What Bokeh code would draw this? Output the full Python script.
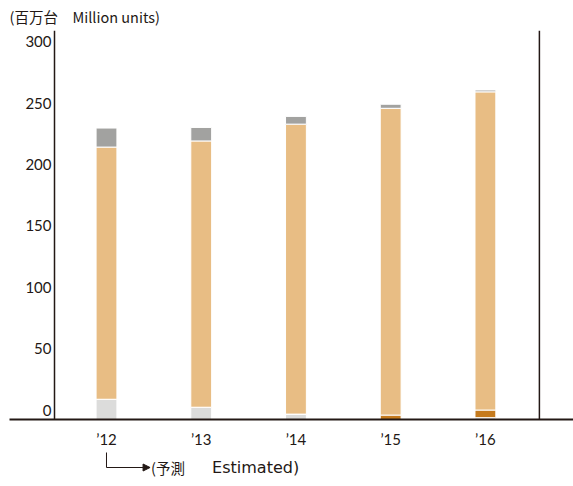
from bokeh.plotting import figure
from bokeh.layouts import column
from bokeh.models import (ColumnDataSource, Range1d, FixedTicker, LinearAxis, Span,
                          Label, Arrow, NormalHead, Title)
from bokeh.embed import file_html
from bokeh.resources import INLINE

years = ["\u201912", "\u201913", "\u201914", "\u201915", "\u201916"]
light_gray = [16.5, 10.0, 4.4, 0.0, 1.5]
dark_orange = [0.0, 0.0, 0.0, 3.6, 6.2]
orange = [205.5, 217.0, 236.3, 250.0, 259.3]
gray = [15.5, 11.0, 6.3, 3.3, 1.5]
y_ticks = [0, 50, 100, 150, 200, 250, 300]
unit_label = "(百万台\u3000Million units)"
note_jp = "(予測"
note_en = "Estimated)"

xs = list(range(len(years)))
FONT = "Lato"
INK = "#231815"
LABEL_LIFT = 7.7  # tick labels sit above their value lines

src = ColumnDataSource(dict(x=xs, lg=light_gray, do=dark_orange, o=orange, g=gray))

x_range = Range1d(-1.024, 4.93)
p = figure(width=573, height=450, output_backend="svg", toolbar_location=None,
           x_range=x_range, y_range=Range1d(0, 317),
           min_border_left=9, min_border_right=0, min_border_top=30, min_border_bottom=27)
p.outline_line_color = None
p.grid.visible = False
p.yaxis.visible = False

colors = ["#DCDCDB", "#C57A1D", "#E8BD84", "#A2A2A0"]
p.vbar_stack(["lg", "do", "o", "g"], x="x", width=0.22, source=src,
             color=colors, line_color="white", line_width=1)

# x axis (baseline)
xa = p.xaxis[0]
xa.ticker = FixedTicker(ticks=xs)
xa.major_label_overrides = {i: t for i, t in zip(xs, years)}
xa.axis_line_color = INK
xa.axis_line_width = 2
xa.major_tick_line_color = None
xa.minor_tick_line_color = None
xa.major_label_text_font = FONT
xa.major_label_text_font_size = "15px"
xa.major_label_text_color = INK
xa.major_label_standoff = 4

# y axis drawn inside the frame
ya = LinearAxis(fixed_location=-0.549,
                ticker=FixedTicker(ticks=[t + LABEL_LIFT for t in y_ticks]))
ya.major_label_overrides = {t + LABEL_LIFT: str(t) for t in y_ticks}
ya.axis_line_color = INK
ya.axis_line_width = 1.5
ya.major_tick_line_color = None
ya.minor_tick_line_color = None
ya.major_label_text_font = FONT
ya.major_label_text_font_size = "15px"
ya.major_label_text_color = INK
ya.major_label_text_baseline = "bottom"
ya.major_label_standoff = -3
p.add_layout(ya, "left")

p.add_layout(Span(location=4.57, dimension="height", line_color=INK, line_width=1.5))

p.add_layout(Title(text=unit_label, align="left", text_font="Noto Sans CJK JP",
                   text_font_size="14.5px", text_font_style="normal", text_color=INK,
                   offset=0, standoff=7), "above")

# forecast annotation in a strip below the chart
p2 = figure(width=573, height=36, output_backend="svg", toolbar_location=None,
            x_range=x_range, y_range=Range1d(0, 36), x_axis_type=None, y_axis_type=None,
            min_border_left=9, min_border_right=0, min_border_top=0, min_border_bottom=0)
p2.outline_line_color = None
p2.grid.visible = False
p2.add_layout(Arrow(x_start=0, y_start=34, x_end=0, y_end=19, end=None,
                    line_color=INK, line_width=1))
p2.add_layout(Arrow(x_start=0, y_start=19, x_end=0.46, y_end=19,
                    end=NormalHead(size=7, fill_color=INK, line_color=INK),
                    line_color=INK, line_width=1))
p2.add_layout(Label(x=0.47, y=19, text=note_jp, text_font="Noto Sans CJK JP",
                    text_font_size="14.5px", text_color=INK, text_baseline="middle"))
p2.add_layout(Label(x=1.115, y=19, text=note_en, text_font="DejaVu Sans",
                    text_font_size="16px", text_color=INK, text_baseline="middle"))

open("out.html", "w").write(file_html(column(p, p2, spacing=0), INLINE))
